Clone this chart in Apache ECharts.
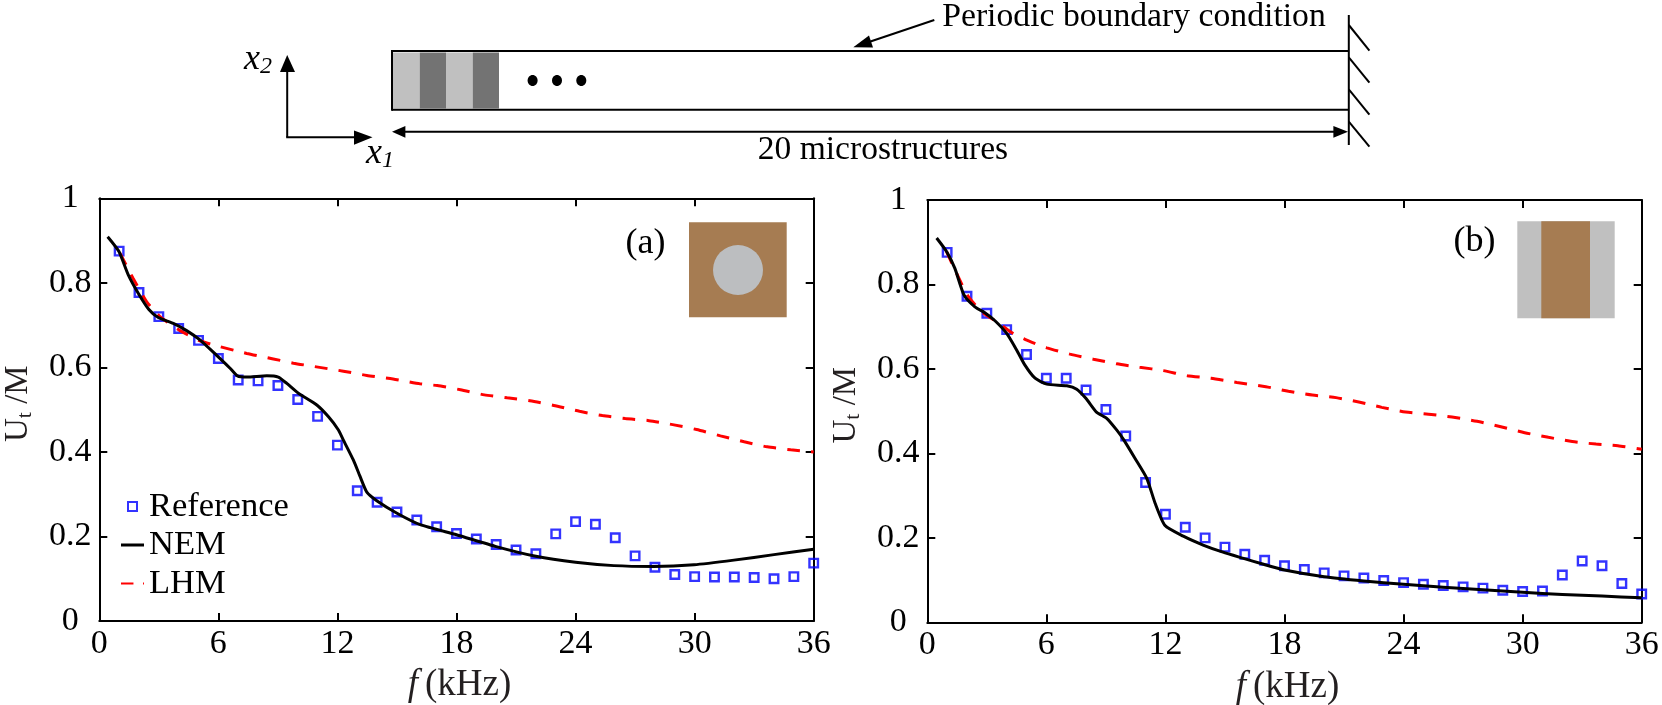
<!DOCTYPE html>
<html>
<head>
<meta charset="utf-8">
<style>
  html, body { margin: 0; padding: 0; background: #fff; }
  #chart { width: 1662px; height: 705px; }
</style>
<script src="https://cdn.jsdelivr.net/npm/echarts@6/dist/echarts.min.js"></script>
</head>
<body>
<div id="chart"></div>
<script>
// tick labels
var freqTicks = [0, 6, 12, 18, 24, 30, 36];
var utTicks = [0, 0.2, 0.4, 0.6, 0.8, 1];

// reference points, one per kHz
var refFreq = [1,2,3,4,5,6,7,8,9,10,11,12,13,14,15,16,17,18,19,20,21,22,23,24,25,26,27,28,29,30,31,32,33,34,35,36];
var refA = [.875,.777,.72,.692,.664,.621,.57,.568,.557,.524,.484,.416,.308,.281,.258,.239,.223,.207,.194,.181,.168,.159,.206,.235,.229,.197,.154,.127,.11,.105,.104,.104,.103,.1,.105,.137];
var refB = [.876,.772,.732,.693,.634,.578,.578,.55,.504,.441,.331,.256,.225,.2,.178,.161,.147,.134,.125,.117,.11,.105,.099,.094,.09,.087,.084,.081,.076,.073,.074,.112,.145,.134,.092,.067];

// NEM curve of panel a
var nemFreqA = [.42,.99,1.46,1.97,2.5,2.97,3.73,4.4,5.07,5.9,6.59,6.96,7.43,8.44,9.02,9.45,10.03,10.96,11.55,12.05,12.3,12.8,13.14,13.48,14,15,16.17,18,20,22,24,25.93,27.95,29.97,31.98,34,36];
var nemA = [.909,.874,.819,.775,.737,.718,.704,.687,.665,.629,.598,.58,.577,.58,.577,.562,.539,.511,.483,.452,.428,.381,.342,.305,.284,.255,.228,.204,.176,.153,.139,.131,.129,.133,.144,.157,.17];

// LHM curve of panel a
var lhmFreqA = [1.04,1.7,2.39,3.06,4.07,5.07,6.08,7.43,8.77,9.78,11.1,12.3,13.48,14.8,16.17,17.03,18.2,19.4,20.55,21.7,22.9,24.2,25.35,26.5,27.7,28.96,30.1,31.3,32.5,33.66,34.84,36];
var lhmA = [.87,.811,.755,.72,.687,.663,.649,.633,.62,.61,.6,.591,.581,.5725,.561,.557,.547,.535,.528,.521,.51,.496,.486,.479,.474,.464,.453,.438,.424,.412,.405,.4];

// NEM curve of panel b
var nemFreqB = [.47,.97,1.39,1.85,2.4,2.9,3.41,4,4.5,4.92,5.43,6.02,7.03,7.53,8,8.54,9.04,9.55,9.9,10.47,11.06,11.48,11.98,12.9,13.9,14.9,15.89,16.9,18,20,22,24,26,28,30,32,34,36];
var nemB = [.91,.878,.838,.775,.747,.733,.714,.684,.645,.609,.578,.564,.56,.552,.53,.497,.483,.455,.432,.388,.341,.282,.229,.204,.183,.166,.152,.138,.124,.108,.098,.09,.083,.077,.071,.066,.062,.058];

// LHM curve of panel b
var lhmFreqB = [.97,1.48,2.07,2.82,3.5,4.25,4.92,6.02,7.19,8.37,9.55,10.7,11.9,13.1,14.3,15.6,17.06,18.2,19.4,20.6,21.8,22.9,24.1,25.4,26.6,27.7,28.9,30.1,31.3,32.5,33.7,34.8,36];
var lhmB = [.878,.826,.771,.732,.712,.686,.67,.65,.635,.623,.612,.604,.596,.584,.578,.568,.558,.547,.538,.532,.521,.509,.498,.492,.485,.476,.463,.449,.438,.428,.422,.418,.41];

var FONT = '"Liberation Serif", "Times New Roman", serif';
var AXIS_STYLE = { lineStyle: { color: '#000', width: 2 } };

function zip(xs, ys) {
  return xs.map(function (x, i) { return [x, ys[i]]; });
}

// bottom + top x axes for one panel
function xAxes(idx) {
  var base = {
    gridIndex: idx, type: 'value',
    min: freqTicks[0], max: freqTicks[freqTicks.length - 1], interval: freqTicks[1] - freqTicks[0],
    splitLine: { show: false },
    axisLine: Object.assign({ onZero: false }, AXIS_STYLE),
    axisTick: { show: true, inside: true, length: 8, lineStyle: { color: '#000', width: 2 } }
  };
  return [
    Object.assign({}, base, {
      position: 'bottom',
      axisLabel: { fontFamily: FONT, fontSize: 34, color: '#000', margin: 6, showMinLabel: true, showMaxLabel: true },
      name: '{i|f}{g| }{n|(kHz)}',
      nameLocation: 'middle',
      nameGap: 46,
      nameTextStyle: {
        padding: [0, 0, 0, 6],
        rich: {
          i: { fontFamily: FONT, fontSize: 37, fontStyle: 'italic', color: '#231f20' },
          g: { fontFamily: FONT, fontSize: 28 },
          n: { fontFamily: FONT, fontSize: 37, color: '#231f20' }
        }
      }
    }),
    Object.assign({}, base, { position: 'top', axisLabel: { show: false } })
  ];
}

// left + right y axes for one panel
function yAxes(idx) {
  var base = {
    gridIndex: idx, type: 'value',
    min: utTicks[0], max: utTicks[utTicks.length - 1], interval: utTicks[1] - utTicks[0],
    splitLine: { show: false },
    axisLine: Object.assign({ onZero: false }, AXIS_STYLE),
    axisTick: { show: true, inside: true, length: 8, lineStyle: { color: '#000', width: 2 } }
  };
  return [
    Object.assign({}, base, {
      position: 'left',
      axisLabel: { fontFamily: FONT, fontSize: 34, color: '#000', margin: 29, align: 'center', showMinLabel: true, showMaxLabel: true },
      name: '{n|U}{s|t}{n| /M}',
      nameLocation: 'middle',
      nameGap: 63,
      nameRotate: 90,
      nameTextStyle: {
        padding: [0, 0, 0, 12],
        rich: {
          n: { fontFamily: FONT, fontSize: 33, color: '#231f20' },
          s: { fontFamily: FONT, fontSize: 22, color: '#231f20', verticalAlign: 'bottom', padding: [13, 0, 0, 0] }
        }
      }
    }),
    Object.assign({}, base, { position: 'right', axisLabel: { show: false } })
  ];
}

function panelSeries(idx, ref, lhm, nem) {
  var xIdx = idx * 2, yIdx = idx * 2;
  return [
    {
      name: 'Reference', type: 'scatter', xAxisIndex: xIdx, yAxisIndex: yIdx,
      symbol: 'rect', symbolSize: 8.5, clip: false, z: 2,
      itemStyle: { color: 'rgba(255,255,255,0)', borderColor: '#0000ff', borderWidth: 2.4 },
      data: ref
    },
    {
      name: 'LHM', type: 'line', xAxisIndex: xIdx, yAxisIndex: yIdx,
      showSymbol: false, symbol: 'none', smooth: 0.2, z: 3,
      itemStyle: { color: '#ff0000' },
      lineStyle: { color: '#ff0000', width: 3, type: [13, 11] },
      data: lhm
    },
    {
      name: 'NEM', type: 'line', xAxisIndex: xIdx, yAxisIndex: yIdx,
      showSymbol: false, symbol: 'none', smooth: 0.2, z: 4,
      itemStyle: { color: '#000' },
      lineStyle: { color: '#000', width: 3, join: 'round' },
      data: nem
    }
  ];
}

// schematic helpers (pixel space, not data)
function gLine(x1, y1, x2, y2, w) {
  return { type: 'line', shape: { x1: x1, y1: y1, x2: x2, y2: y2 }, style: { stroke: '#000', lineWidth: w || 2 }, z: 5 };
}
function gRect(x, y, w, h, fill, z) {
  return { type: 'rect', shape: { x: x, y: y, width: w, height: h }, style: { fill: fill }, z: z || 5 };
}
function gTri(points) {
  return { type: 'polygon', shape: { points: points }, style: { fill: '#000' }, z: 6 };
}
function gText(x, y, text, size, extra) {
  return {
    type: 'text', x: x, y: y, z: 7,
    style: Object.assign({ text: text, fill: '#000', font: (size || 33) + 'px ' + FONT, textAlign: 'center', textVerticalAlign: 'middle' }, extra || {})
  };
}
function gDot(cx) {
  return { type: 'ellipse', shape: { cx: cx, cy: 80.5, rx: 5, ry: 5.5 }, style: { fill: '#000' }, z: 6 };
}
function gSubLabel(x, y, main, sub) {
  return {
    type: 'text', x: x, y: y, z: 7,
    style: {
      text: '{m|' + main + '}{s|' + sub + '}',
      textVerticalAlign: 'middle',
      rich: {
        m: { font: 'italic 36px ' + FONT, fill: '#000' },
        s: { font: 'italic 24px ' + FONT, fill: '#000', verticalAlign: 'bottom', padding: [14, 0, 0, 0] }
      }
    }
  };
}

var schematic = [
  // periodic bar
  gRect(393, 52.5, 26.7, 56, '#c0c0c0'),
  gRect(419.7, 52.5, 26.3, 56, '#737373'),
  gRect(446, 52.5, 26.7, 56, '#c0c0c0'),
  gRect(472.7, 52.5, 26.3, 56, '#737373'),
  gLine(392, 51, 1349, 51),
  gLine(392, 109.7, 1349, 109.7),
  gLine(392, 50, 392, 110.7),
  gDot(532.6), gDot(557), gDot(581.3),
  // fixed wall
  gLine(1348.8, 15, 1348.8, 145),
  gLine(1348.8, 25, 1369.4, 50.7),
  gLine(1348.8, 57.3, 1369.4, 82.7),
  gLine(1348.8, 89.3, 1369.4, 114.7),
  gLine(1348.8, 121.7, 1369.4, 146.7),
  // coordinate arrows
  gLine(287.2, 137.3, 287.2, 70),
  gLine(286.2, 137.3, 355, 137.3),
  gTri([[287.2, 55], [295, 72], [280, 72]]),
  gTri([[372.5, 137.3], [354, 130.5], [354, 144.7]]),
  gSubLabel(244, 60, 'x', '2'),
  gSubLabel(366, 154, 'x', '1'),
  // length arrow
  gLine(404, 131.7, 1335, 131.7),
  gTri([[392, 131.7], [405.4, 126], [405.4, 137.7]]),
  gTri([[1348, 131.7], [1333.4, 126], [1333.4, 137.7]]),
  gText(883, 150, '20 microstructures', 33.5),
  // boundary condition note
  gText(1134, 17, 'Periodic boundary condition', 33.7),
  gLine(934.3, 20, 866, 43),
  gTri([[853.3, 47.3], [869, 35.5], [873, 47.5]]),
  // panel labels and insets
  gText(645.5, 243.5, '(a)', 36),
  gText(1474.5, 242, '(b)', 36),
  gRect(689, 222.3, 97.7, 95, '#a67c52'),
  { type: 'circle', shape: { cx: 738, cy: 270, r: 25 }, style: { fill: '#bcbec0' }, z: 6 },
  gRect(1517.3, 221.3, 97.4, 97, '#c0c0c0'),
  gRect(1541.3, 221.3, 48.7, 97, '#a67c52', 6)
];

var chart = echarts.init(document.getElementById('chart'), null, { renderer: 'canvas' });

chart.setOption({
  animation: false,
  backgroundColor: '#fff',
  grid: [
    { left: 99.3, top: 198.3, width: 714.4, height: 422.7, containLabel: false, outerBoundsMode: 'none' },
    { left: 927.3, top: 200, width: 714.4, height: 422.3, containLabel: false, outerBoundsMode: 'none' }
  ],
  xAxis: xAxes(0).concat(xAxes(1)),
  yAxis: yAxes(0).concat(yAxes(1)),
  legend: {
    orient: 'vertical',
    left: 121,
    top: 489,
    padding: 0,
    itemWidth: 23,
    itemHeight: 9,
    itemGap: 3.5,
    selectedMode: false,
    textStyle: { fontFamily: FONT, fontSize: 34.5, color: '#000' },
    data: [
      { name: 'Reference', icon: 'path://M0 0H10V10H0Z' },
      { name: 'NEM', icon: 'path://M0 0H23V3H0Z', itemStyle: { color: '#000', borderWidth: 0 } },
      { name: 'LHM', icon: 'path://M0 0H13V2H0Z M23 0H24V2H23Z', itemStyle: { color: '#ff0000', borderWidth: 0 } }
    ]
  },
  series: panelSeries(0, zip(refFreq, refA), zip(lhmFreqA, lhmA), zip(nemFreqA, nemA))
    .concat(panelSeries(1, zip(refFreq, refB), zip(lhmFreqB, lhmB), zip(nemFreqB, nemB))),
  graphic: { elements: schematic }
});
</script>
</body>
</html>
